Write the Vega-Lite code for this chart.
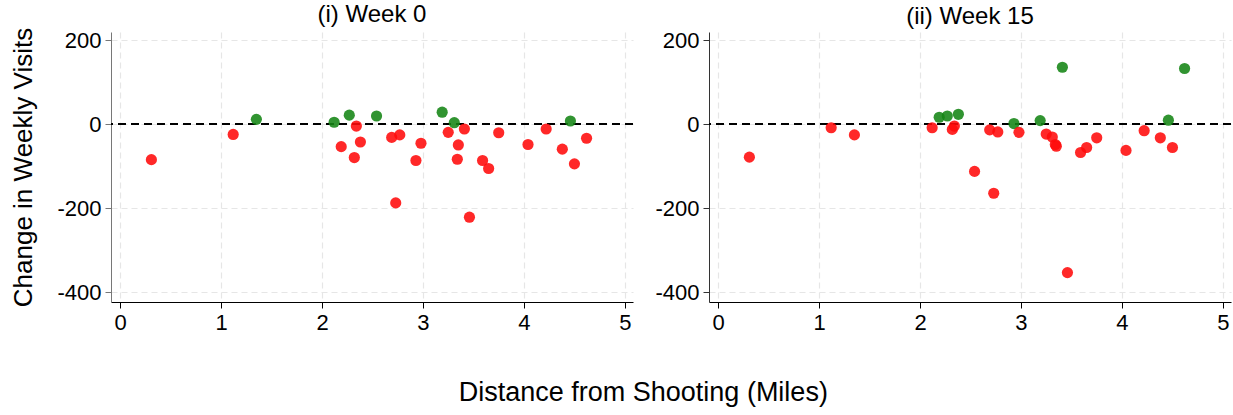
{
  "$schema": "https://vega.github.io/schema/vega-lite/v6.json",
  "background": "white",
  "padding": {"left": 10, "top": 3, "right": 2, "bottom": 5},
  "config": {
    "font": "Liberation Sans",
    "view": {"stroke": null},
    "concat": {"spacing": 20},
    "title": {"fontSize": 24, "fontWeight": "normal", "color": "black", "font": "Liberation Sans"},
    "axis": {
      "labelFontSize": 22,
      "labelColor": "black",
      "labelFont": "Liberation Sans",
      "labelExpr": "'' + datum.value",
      "titleFont": "Liberation Sans",
      "titleFontSize": 26,
      "titleFontWeight": "normal",
      "titleColor": "black",
      "tickSize": 6,
      "labelPadding": 4,
      "grid": true,
      "gridColor": "#e6e6e6",
      "gridDash": [6, 4],
      "gridWidth": 1.2
    }
  },
  "title": {
    "text": "Distance from Shooting (Miles)",
    "orient": "bottom",
    "anchor": "middle",
    "fontSize": 27,
    "offset": 47,
    "dx": 22
  },
  "datasets": {
    "pts": [
      {"week": 0, "distance": 0.31, "change": -84, "sign": "neg"},
      {"week": 0, "distance": 1.12, "change": -24, "sign": "neg"},
      {"week": 0, "distance": 1.35, "change": 12, "sign": "pos"},
      {"week": 0, "distance": 2.12, "change": 5, "sign": "pos"},
      {"week": 0, "distance": 2.19, "change": -53, "sign": "neg"},
      {"week": 0, "distance": 2.27, "change": 22, "sign": "pos"},
      {"week": 0, "distance": 2.32, "change": -79, "sign": "neg"},
      {"week": 0, "distance": 2.34, "change": -4, "sign": "neg"},
      {"week": 0, "distance": 2.38, "change": -42, "sign": "neg"},
      {"week": 0, "distance": 2.54, "change": 20, "sign": "pos"},
      {"week": 0, "distance": 2.69, "change": -31, "sign": "neg"},
      {"week": 0, "distance": 2.73, "change": -187, "sign": "neg"},
      {"week": 0, "distance": 2.77, "change": -25, "sign": "neg"},
      {"week": 0, "distance": 2.93, "change": -86, "sign": "neg"},
      {"week": 0, "distance": 2.98, "change": -45, "sign": "neg"},
      {"week": 0, "distance": 3.19, "change": 29, "sign": "pos"},
      {"week": 0, "distance": 3.25, "change": -19, "sign": "neg"},
      {"week": 0, "distance": 3.31, "change": 4, "sign": "pos"},
      {"week": 0, "distance": 3.34, "change": -83, "sign": "neg"},
      {"week": 0, "distance": 3.35, "change": -49, "sign": "neg"},
      {"week": 0, "distance": 3.41, "change": -11, "sign": "neg"},
      {"week": 0, "distance": 3.46, "change": -221, "sign": "neg"},
      {"week": 0, "distance": 3.59, "change": -86, "sign": "neg"},
      {"week": 0, "distance": 3.65, "change": -105, "sign": "neg"},
      {"week": 0, "distance": 3.75, "change": -20, "sign": "neg"},
      {"week": 0, "distance": 4.04, "change": -48, "sign": "neg"},
      {"week": 0, "distance": 4.22, "change": -11, "sign": "neg"},
      {"week": 0, "distance": 4.38, "change": -59, "sign": "neg"},
      {"week": 0, "distance": 4.46, "change": 8, "sign": "pos"},
      {"week": 0, "distance": 4.50, "change": -94, "sign": "neg"},
      {"week": 0, "distance": 4.62, "change": -33, "sign": "neg"},
      {"week": 15, "distance": 0.31, "change": -78, "sign": "neg"},
      {"week": 15, "distance": 1.12, "change": -8, "sign": "neg"},
      {"week": 15, "distance": 1.35, "change": -25, "sign": "neg"},
      {"week": 15, "distance": 2.12, "change": -8, "sign": "neg"},
      {"week": 15, "distance": 2.19, "change": 17, "sign": "pos"},
      {"week": 15, "distance": 2.27, "change": 20, "sign": "pos"},
      {"week": 15, "distance": 2.32, "change": -12, "sign": "neg"},
      {"week": 15, "distance": 2.34, "change": -4, "sign": "neg"},
      {"week": 15, "distance": 2.38, "change": 24, "sign": "pos"},
      {"week": 15, "distance": 2.54, "change": -112, "sign": "neg"},
      {"week": 15, "distance": 2.69, "change": -13, "sign": "neg"},
      {"week": 15, "distance": 2.73, "change": -164, "sign": "neg"},
      {"week": 15, "distance": 2.77, "change": -18, "sign": "neg"},
      {"week": 15, "distance": 2.93, "change": 2, "sign": "pos"},
      {"week": 15, "distance": 2.98, "change": -19, "sign": "neg"},
      {"week": 15, "distance": 3.19, "change": 9, "sign": "pos"},
      {"week": 15, "distance": 3.25, "change": -23, "sign": "neg"},
      {"week": 15, "distance": 3.31, "change": -30, "sign": "neg"},
      {"week": 15, "distance": 3.34, "change": -48, "sign": "neg"},
      {"week": 15, "distance": 3.35, "change": -52, "sign": "neg"},
      {"week": 15, "distance": 3.41, "change": 136, "sign": "pos"},
      {"week": 15, "distance": 3.46, "change": -353, "sign": "neg"},
      {"week": 15, "distance": 3.59, "change": -67, "sign": "neg"},
      {"week": 15, "distance": 3.65, "change": -55, "sign": "neg"},
      {"week": 15, "distance": 3.75, "change": -32, "sign": "neg"},
      {"week": 15, "distance": 4.04, "change": -62, "sign": "neg"},
      {"week": 15, "distance": 4.22, "change": -15, "sign": "neg"},
      {"week": 15, "distance": 4.38, "change": -32, "sign": "neg"},
      {"week": 15, "distance": 4.46, "change": 10, "sign": "pos"},
      {"week": 15, "distance": 4.50, "change": -55, "sign": "neg"},
      {"week": 15, "distance": 4.62, "change": 133, "sign": "pos"}
    ]
  },
  "hconcat": [
    {
      "width": 522,
      "height": 270,
      "title": {"text": "(i) Week 0", "offset": 0},
      "data": {"name": "pts"},
      "transform": [{"filter": "datum.week == 0"}],
      "layer": [
        {
          "mark": {"type": "rule", "color": "black", "strokeDash": [8, 5], "strokeWidth": 1.3},
          "encoding": {"y": {"datum": 0}}
        },
        {
          "mark": {"type": "circle", "size": 125, "opacity": 0.88},
          "encoding": {
            "x": {"field": "distance", "type": "quantitative",
              "scale": {"domain": [-0.09, 5.08], "nice": false, "zero": false},
              "axis": {"values": [0, 1, 2, 3, 4, 5], "title": null, "domainColor": "black", "tickColor": "black"}},
            "y": {"field": "change", "type": "quantitative",
              "scale": {"domain": [-423, 220], "nice": false, "zero": false},
              "axis": {"values": [-400, -200, 0, 200], "title": "Change in Weekly Visits", "titlePadding": 20, "domainColor": "#777", "tickColor": "#777"}},
            "color": {"field": "sign", "type": "nominal",
              "scale": {"domain": ["neg", "pos"], "range": ["#ff0a0a", "#158515"]}, "legend": null}
          }
        }
      ]
    },
    {
      "width": 522,
      "height": 270,
      "title": {"text": "(ii) Week 15", "offset": 0},
      "data": {"name": "pts"},
      "transform": [{"filter": "datum.week == 15"}],
      "layer": [
        {
          "mark": {"type": "rule", "color": "black", "strokeDash": [8, 5], "strokeWidth": 1.3},
          "encoding": {"y": {"datum": 0}}
        },
        {
          "mark": {"type": "circle", "size": 125, "opacity": 0.88},
          "encoding": {
            "x": {"field": "distance", "type": "quantitative",
              "scale": {"domain": [-0.09, 5.08], "nice": false, "zero": false},
              "axis": {"values": [0, 1, 2, 3, 4, 5], "title": null, "domainColor": "black", "tickColor": "black"}},
            "y": {"field": "change", "type": "quantitative",
              "scale": {"domain": [-423, 220], "nice": false, "zero": false},
              "axis": {"values": [-400, -200, 0, 200], "title": null, "domainColor": "#333", "tickColor": "#333"}},
            "color": {"field": "sign", "type": "nominal",
              "scale": {"domain": ["neg", "pos"], "range": ["#ff0a0a", "#158515"]}, "legend": null}
          }
        }
      ]
    }
  ]
}
